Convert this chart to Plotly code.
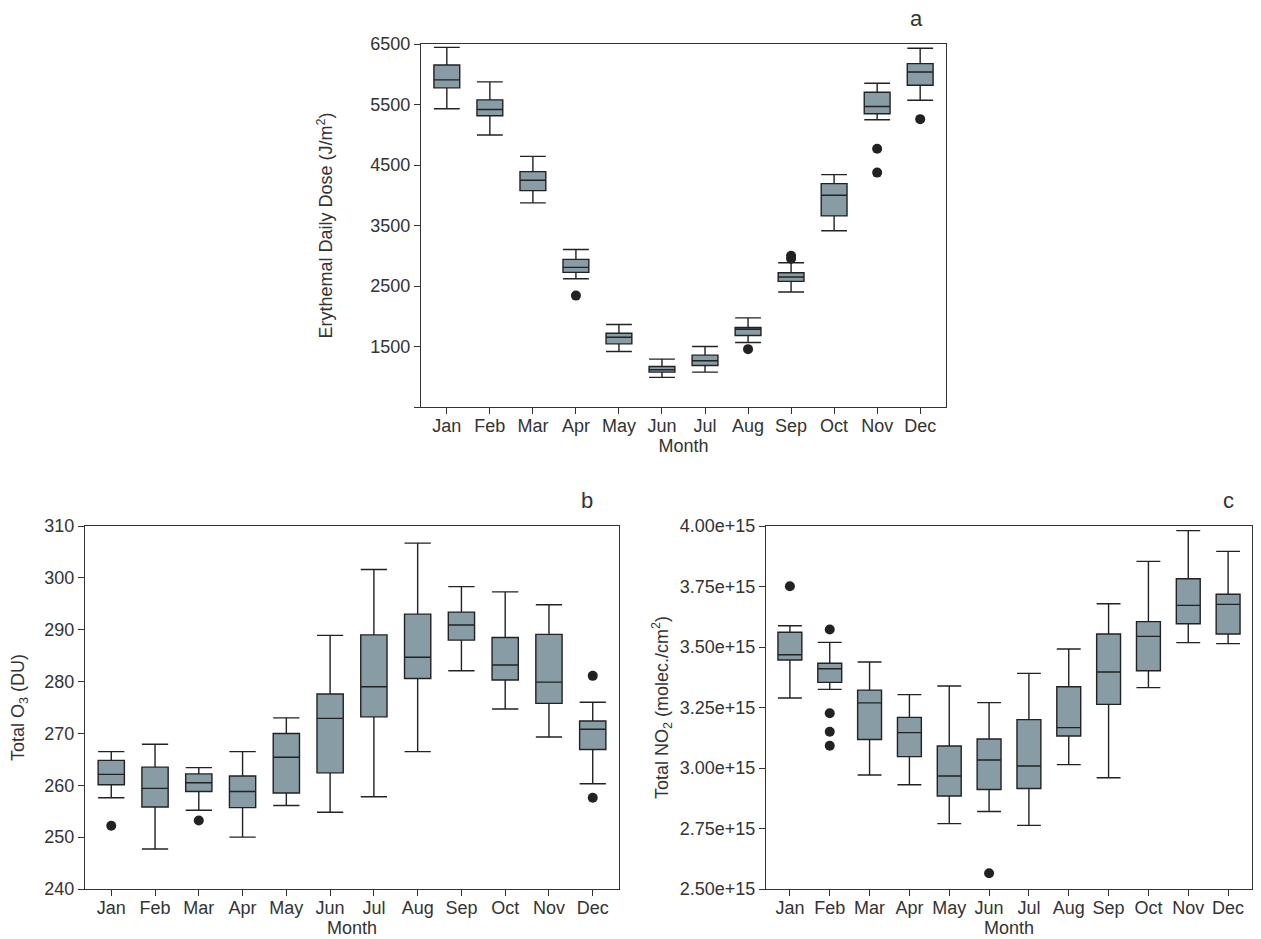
import plotly.graph_objects as go

months = ["Jan", "Feb", "Mar", "Apr", "May", "Jun", "Jul", "Aug", "Sep", "Oct", "Nov", "Dec"]

# Panel a: Erythemal daily dose (J/m2)
a_low = [5429, 4995, 3874, 2621, 1418, 989, 1077, 1566, 2401, 3412, 5247, 5571]
a_q1 = [5775, 5313, 4077, 2725, 1544, 1077, 1187, 1681, 2577, 3659, 5346, 5819]
a_med = [5907, 5418, 4247, 2808, 1654, 1115, 1264, 1786, 2648, 4000, 5467, 6038]
a_q3 = [6154, 5577, 4390, 2940, 1720, 1170, 1357, 1813, 2720, 4192, 5703, 6176]
a_high = [6445, 5874, 4643, 3104, 1863, 1291, 1500, 1973, 2884, 4341, 5852, 6429]
a_out_x = ["Apr", "Aug", "Sep", "Sep", "Nov", "Nov", "Dec"]
a_out_y = [2341, 1456, 3000, 2950, 4769, 4374, 5258]

# Panel b: Total O3 (DU)
b_low = [257.6, 247.7, 255.2, 250.0, 256.1, 254.8, 257.8, 266.5, 282.1, 274.7, 269.3, 260.3]
b_q1 = [260.1, 255.8, 258.8, 255.7, 258.5, 262.4, 273.2, 280.6, 288.0, 280.3, 275.8, 266.9]
b_med = [262.1, 259.4, 260.5, 258.8, 265.4, 272.9, 279.0, 284.7, 290.9, 283.2, 279.9, 270.8]
b_q3 = [264.8, 263.5, 262.2, 261.8, 270.0, 277.6, 289.0, 293.0, 293.4, 288.5, 289.1, 272.4]
b_high = [266.5, 267.9, 263.4, 266.5, 273.0, 288.9, 301.6, 306.7, 298.3, 297.3, 294.8, 276.0]
b_out_x = ["Jan", "Mar", "Dec", "Dec"]
b_out_y = [252.2, 253.2, 281.1, 257.6]

# Panel c: Total NO2 (molec./cm2)
c_low = [3.289e15, 3.325e15, 2.971e15, 2.931e15, 2.770e15, 2.820e15, 2.763e15, 3.014e15, 2.960e15, 3.332e15, 3.518e15, 3.514e15]
c_q1 = [3.446e15, 3.354e15, 3.118e15, 3.047e15, 2.884e15, 2.911e15, 2.915e15, 3.132e15, 3.263e15, 3.402e15, 3.596e15, 3.554e15]
c_med = [3.468e15, 3.410e15, 3.269e15, 3.146e15, 2.967e15, 3.033e15, 3.008e15, 3.167e15, 3.397e15, 3.544e15, 3.672e15, 3.676e15]
c_q3 = [3.561e15, 3.433e15, 3.322e15, 3.209e15, 3.091e15, 3.120e15, 3.200e15, 3.336e15, 3.554e15, 3.605e15, 3.782e15, 3.718e15]
c_high = [3.588e15, 3.519e15, 3.438e15, 3.303e15, 3.339e15, 3.270e15, 3.391e15, 3.492e15, 3.679e15, 3.854e15, 3.981e15, 3.895e15]
c_out_x = ["Jan", "Feb", "Feb", "Feb", "Feb", "Jun"]
c_out_y = [3.751e15, 3.572e15, 3.226e15, 3.150e15, 3.092e15, 2.565e15]

a_ticks = [500, 1500, 2500, 3500, 4500, 5500, 6500]
a_ticktext = ["", "1500", "2500", "3500", "4500", "5500", "6500"]
b_ticks = [240, 250, 260, 270, 280, 290, 300, 310]
c_ticks = [2.50e15, 2.75e15, 3.00e15, 3.25e15, 3.50e15, 3.75e15, 4.00e15]
c_ticktext = ["2.50e+15", "2.75e+15", "3.00e+15", "3.25e+15", "3.50e+15", "3.75e+15", "4.00e+15"]

FILL = "#879ca5"
LINE = "#222222"
TXT = "#333333"
FONT = "Liberation Sans, Arial, sans-serif"
FS = 18

fig = go.Figure()

panels = [
    ("x", "y", a_low, a_q1, a_med, a_q3, a_high, a_out_x, a_out_y),
    ("x2", "y2", b_low, b_q1, b_med, b_q3, b_high, b_out_x, b_out_y),
    ("x3", "y3", c_low, c_q1, c_med, c_q3, c_high, c_out_x, c_out_y),
]
for xa, ya, lo, q1, md, q3, hi, ox, oy in panels:
    fig.add_trace(go.Box(
        x=months, q1=q1, median=md, q3=q3, lowerfence=lo, upperfence=hi,
        xaxis=xa, yaxis=ya, fillcolor=FILL,
        line=dict(color=LINE, width=1.4), width=0.6, whiskerwidth=1,
        boxpoints=False, showlegend=False, hoverinfo="skip",
    ))
    fig.add_trace(go.Scatter(
        x=ox, y=oy, mode="markers", xaxis=xa, yaxis=ya,
        marker=dict(color=LINE, size=10), showlegend=False, hoverinfo="skip",
    ))

W, H = 1261, 939

def xd(l, r):
    return [l / W, r / W]

def yd(t, b):
    return [1 - b / H, 1 - t / H]

axis_common = dict(
    showline=True, linecolor="#333333", linewidth=1.3, mirror=True,
    ticks="outside", ticklen=6, tickcolor="#333333", showgrid=False, zeroline=False,
    tickfont=dict(family=FONT, size=FS, color=TXT), automargin=False,
)
xcommon = dict(axis_common, type="category", categoryorder="array", categoryarray=months,
               range=[-0.6, 11.6], ticklabelstandoff=-4,
               title=dict(text="Month", font=dict(family=FONT, size=FS, color=TXT), standoff=2))

def ytitle(text, standoff):
    return dict(text=text, font=dict(family=FONT, size=FS, color=TXT), standoff=standoff)

fig.update_layout(
    width=W, height=H, margin=dict(l=0, r=0, t=0, b=0),
    plot_bgcolor="white", paper_bgcolor="white",
    font=dict(family=FONT, color=TXT),
    xaxis=dict(xcommon, domain=xd(421, 946), anchor="y"),
    yaxis=dict(axis_common, domain=yd(44, 407), anchor="x", range=[500, 6500],
               tickvals=a_ticks, ticktext=a_ticktext,
               title=ytitle("Erythemal Daily Dose (J/m<sup>2</sup>)", 32)),
    xaxis2=dict(xcommon, domain=xd(85, 619), anchor="y2"),
    yaxis2=dict(axis_common, domain=yd(526, 889), anchor="x2", range=[240, 310],
                tickvals=b_ticks,
                title=ytitle("Total O<sub>3</sub> (DU)", 14)),
    xaxis3=dict(xcommon, domain=xd(766, 1252), anchor="y3"),
    yaxis3=dict(axis_common, domain=yd(526, 889), anchor="x3", range=[2.5e15, 4.0e15],
                tickvals=c_ticks, ticktext=c_ticktext,
                title=ytitle("Total NO<sub>2</sub> (molec./cm<sup>2</sup>)", 6)),
    annotations=[
        dict(text="a", x=916 / W, y=1 - 18 / H, xref="paper", yref="paper", showarrow=False,
             xanchor="center", yanchor="middle", font=dict(family=FONT, size=22, color=TXT)),
        dict(text="b", x=587 / W, y=1 - 500 / H, xref="paper", yref="paper", showarrow=False,
             xanchor="center", yanchor="middle", font=dict(family=FONT, size=22, color=TXT)),
        dict(text="c", x=1228 / W, y=1 - 500 / H, xref="paper", yref="paper", showarrow=False,
             xanchor="center", yanchor="middle", font=dict(family=FONT, size=22, color=TXT)),
    ],
)

fig.write_html("out.html")
